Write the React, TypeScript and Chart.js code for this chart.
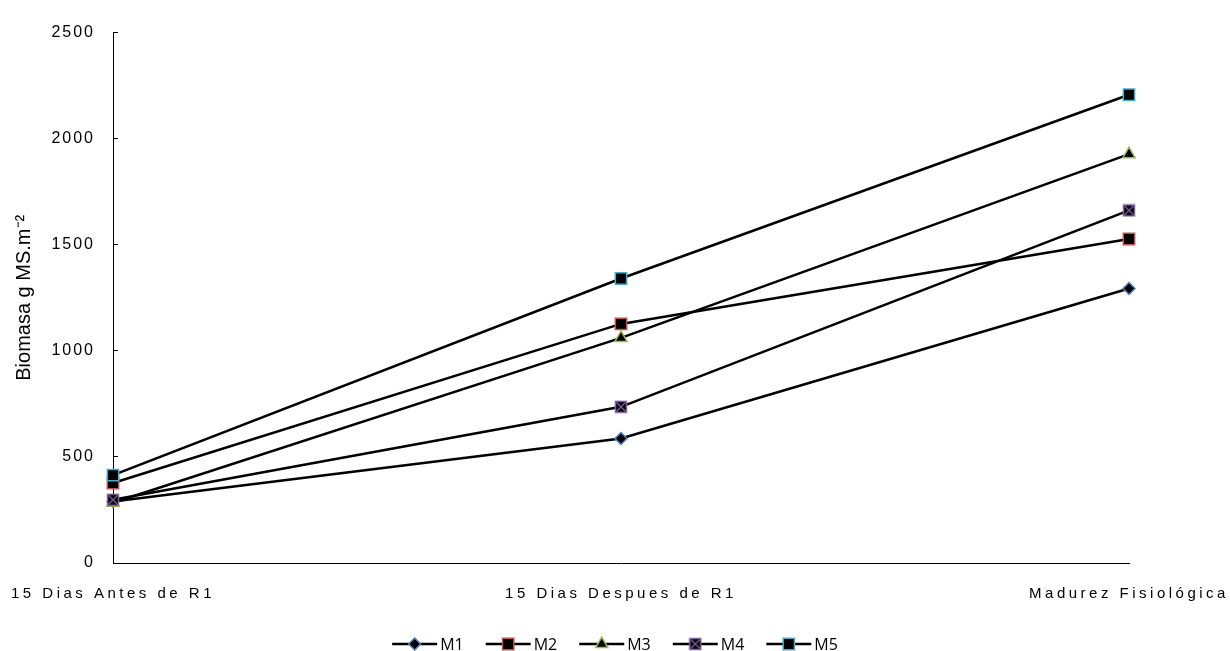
import React, { useEffect, useRef } from 'react';
import { Chart, registerables } from 'chart.js';
import { drawPoint } from 'chart.js/helpers';

Chart.register(...registerables);

const categories = ['15 Dias Antes de R1', '15 Dias Despues de R1', 'Madurez Fisiológica'];
const seriesNames = ['M1', 'M2', 'M3', 'M4', 'M5'];
const m1Values = [290, 587, 1294];
const m2Values = [377, 1127, 1527];
const m3Values = [284, 1061, 1927];
const m4Values = [298, 736, 1662];
const m5Values = [414, 1341, 2207];
const yTickValues = [0, 500, 1000, 1500, 2000, 2500];
const yTitle = 'Biomasa g MS.m⁻²';

const markerColors = ['#4F81BD', '#C0504D', '#9BBB59', '#8064A2', '#4BACC6'];

function makeCrossSquare(color: string): HTMLCanvasElement {
  const c = document.createElement('canvas');
  c.width = 14;
  c.height = 14;
  const g = c.getContext('2d')!;
  g.fillStyle = '#000';
  g.fillRect(1, 1, 12, 12);
  g.strokeStyle = color;
  g.lineWidth = 1.5;
  g.strokeRect(1.5, 1.5, 11, 11);
  g.lineWidth = 1.2;
  g.beginPath();
  g.moveTo(2.5, 2.5);
  g.lineTo(11.5, 11.5);
  g.moveTo(11.5, 2.5);
  g.lineTo(2.5, 11.5);
  g.stroke();
  return c;
}

const tickSpacingPlugin = {
  id: 'tickSpacing',
  afterLayout(chart: any) {
    const specs: Record<string, string> = { x: '3.5px', y: '2px' };
    Object.keys(specs).forEach((id) => {
      const s: any = chart.scales[id];
      if (!s || s.__patched) return;
      const orig = s.drawLabels.bind(s);
      s.drawLabels = (area: any) => {
        const c: any = chart.ctx;
        c.save();
        c.letterSpacing = specs[id];
        orig(area);
        c.restore();
      };
      s.__patched = true;
    });
  },
};

const excelLegendPlugin = {
  id: 'excelLegend',
  afterDraw(chart: any) {
    const ctx = chart.ctx as CanvasRenderingContext2D;
    const datasets = chart.data.datasets as any[];
    ctx.save();
    ctx.font = '16px "Open Sans"';
    const lineLen = 45;
    const gapText = 3;
    const gapItem = 22;
    const widths = datasets.map((ds) => lineLen + gapText + ctx.measureText(ds.label).width);
    const total = widths.reduce((a, b) => a + b, 0) + gapItem * (datasets.length - 1);
    let x = chart.width / 2 - total / 2;
    const y = chart.height - 7;
    datasets.forEach((ds, i) => {
      ctx.strokeStyle = '#000';
      ctx.lineWidth = 2.5;
      ctx.beginPath();
      ctx.moveTo(x, y);
      ctx.lineTo(x + lineLen, y);
      ctx.stroke();
      ctx.fillStyle = ds.pointBackgroundColor;
      ctx.strokeStyle = ds.pointBorderColor;
      ctx.lineWidth = ds.pointBorderWidth;
      drawPoint(ctx, {
        pointStyle: ds.pointStyle,
        rotation: 0,
        radius: ds.pointRadius,
        borderWidth: ds.pointBorderWidth,
      } as any, x + lineLen / 2, y);
      ctx.fillStyle = '#000';
      ctx.textAlign = 'left';
      ctx.textBaseline = 'middle';
      ctx.fillText(ds.label, x + lineLen + gapText, y + 1);
      x += widths[i] + gapItem;
    });
    ctx.restore();
  },
};

export default function App() {
  const canvasRef = useRef<HTMLCanvasElement | null>(null);

  useEffect(() => {
    if (!canvasRef.current) return;
    const crossSquare = makeCrossSquare(markerColors[3]);
    const valueSets = [m1Values, m2Values, m3Values, m4Values, m5Values];
    const styles: any[] = ['rectRot', 'rect', 'triangle', crossSquare, 'rect'];
    const radii = [6, 8, 7, 7, 8];

    const datasets = seriesNames.map((name, i) => ({
      label: name,
      data: valueSets[i],
      borderColor: '#000',
      borderWidth: 2.5,
      tension: 0,
      fill: false,
      pointStyle: styles[i],
      pointRadius: radii[i],
      pointHoverRadius: radii[i],
      pointBackgroundColor: '#000',
      pointBorderColor: markerColors[i],
      pointBorderWidth: 1.5,
      order: seriesNames.length - i,
    }));

    const chart = new Chart(canvasRef.current, {
      type: 'line',
      data: { labels: categories, datasets },
      options: {
        animation: false,
        responsive: false,
        maintainAspectRatio: false,
        devicePixelRatio: 1,
        layout: { padding: { left: 0, right: 101, top: 26, bottom: 0 } },
        plugins: {
          legend: { display: false },
          tooltip: { enabled: false },
        },
        scales: {
          x: {
            offset: false,
            grid: { display: false, drawTicks: false },
            border: { display: true, color: '#000', width: 1 },
            ticks: {
              color: '#000',
              font: { family: '"Liberation Sans", Arial, sans-serif', size: 15 },
              padding: 22,
              maxRotation: 0,
              minRotation: 0,
              autoSkip: false,
            },
            afterFit: (scale: any) => {
              scale.height = 88;
            },
          },
          y: {
            min: yTickValues[0],
            max: yTickValues[yTickValues.length - 1],
            grid: {
              display: true,
              drawOnChartArea: false,
              drawTicks: true,
              tickLength: -5,
              color: '#000',
              lineWidth: 1,
            },
            border: { display: true, color: '#000', width: 1 },
            ticks: {
              stepSize: yTickValues[1] - yTickValues[0],
              color: '#000',
              font: { family: '"Liberation Sans", Arial, sans-serif', size: 16 },
              padding: 23,
              callback: (v: any) => String(v),
            },
            title: {
              display: true,
              text: yTitle,
              color: '#000',
              font: { family: '"Liberation Sans", Arial, sans-serif', size: 20 },
              padding: { top: 12, bottom: 0 },
            },
            afterFit: (scale: any) => {
              scale.width = 113;
            },
          },
        },
      },
      plugins: [tickSpacingPlugin, excelLegendPlugin],
    } as any);

    return () => {
      chart.destroy();
    };
  }, []);

  return (
    <div style={{ position: 'fixed', left: 0, top: 0, width: 1230, height: 651, background: '#fff' }}>
      <canvas
        ref={canvasRef}
        width={1230}
        height={651}
        style={{ display: 'block', width: 1230, height: 651 }}
      />
    </div>
  );
}
